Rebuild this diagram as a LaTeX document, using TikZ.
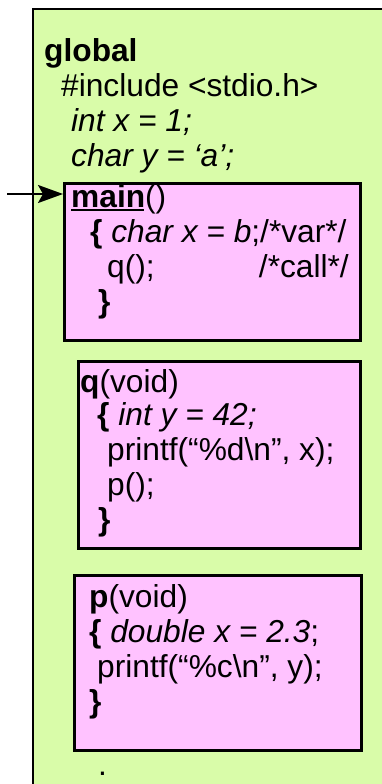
\documentclass[tikz,border=0pt]{standalone}
\usepackage{fontspec}
\setmainfont{Liberation Sans}
\usetikzlibrary{arrows.meta}
\definecolor{scopegreen}{RGB}{217,252,169}
\definecolor{framepink}{RGB}{255,194,255}
\begin{document}
\begin{tikzpicture}[x=1pt,y=-1pt,
  codeline/.style={anchor=base west,inner sep=0pt,font=\fontsize{31.7}{36}\selectfont},
  scopebox/.style={draw=black,line width=2pt,fill=scopegreen,rectangle,anchor=north west,inner sep=0pt},
  framebox/.style={draw=black,line width=2.6pt,fill=framepink,rectangle,anchor=north west,inner sep=0pt}]
\useasboundingbox (0,0) rectangle (382,784);
\clip (0,0) rectangle (382,784);
% global scope
\node[scopebox,minimum width=380pt,minimum height=800pt] (global) at (32,8) {};
\node[codeline] (gtitle) at (44,62) {\textbf{global}};
\node[codeline] (ginc) at (61,96) {\#include <stdio.h>};
\node[codeline] (gx) at (71,131) {\textit{int x = 1;}};
\node[codeline] (gy) at (71,166) {\textit{char y = ‘a’;}};
% frame of main
\node[framebox,minimum width=296pt,minimum height=157pt] (mainbox) at (63,182) {};
\node[codeline] (mtitle) at (71,207) {\textbf{main}()};
\draw[line width=2pt] (mtitle.base west) ++(0,2.5) -- ++(73,0);
\node[codeline] (mdecl) at (90,242) {\textbf{\{} \textit{char x = b};/*var*/};
\node[codeline] (mcall) at (107,277) {q();};
\node[codeline,anchor=base east] (mcomment) at (349,277) {/*call*/};
\node[codeline] (mend) at (98,312) {\textbf{\}}};
% frame of q
\node[framebox,minimum width=282pt,minimum height=187pt] (qbox) at (77,360) {};
\node[codeline] (qtitle) at (80,392) {\textbf{q}(void)};
\node[codeline] (qdecl) at (97,425) {\textbf{\{} \textit{int y = 42;}};
\node[codeline] (qprint) at (107,460) {printf(“\%d\textbackslash n”, x);};
\node[codeline] (qcall) at (107,495) {p();};
\node[codeline] (qend) at (98,530) {\textbf{\}}};
% frame of p
\node[framebox,minimum width=287pt,minimum height=175pt] (pbox) at (73,574) {};
\node[codeline] (ptitle) at (89,607) {\textbf{p}(void)};
\node[codeline] (pdecl) at (89,642) {\textbf{\{} \textit{double x = 2.3};};
\node[codeline] (pprint) at (97,677) {printf(“\%c\textbackslash n”, y);};
\node[codeline] (pend) at (89,712) {\textbf{\}}};
\node[codeline] (dots) at (98,775) {.};
% entry arrow into main
\coordinate (entry) at (7,194);
\draw[line width=2pt,-{Stealth[length=25pt,width=18pt,inset=5pt]}] (entry) -- (mainbox.west |- entry);
\end{tikzpicture}
\end{document}
